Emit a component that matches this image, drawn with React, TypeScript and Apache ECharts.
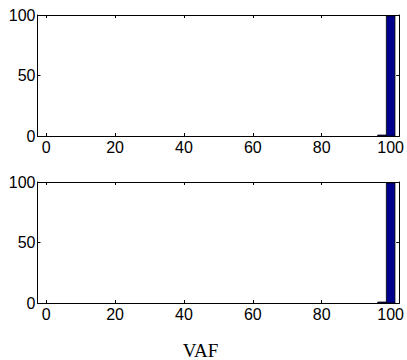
import React, { useEffect, useRef } from "react";
import * as echarts from "echarts";

// Histogram bins: [start, end, count]
const binsTop: number[][] = [
  [96.25, 98.75, 0.8],
  [98.75, 101.25, 99.2],
];
const binsBottom: number[][] = [
  [96.25, 98.75, 0.8],
  [98.75, 101.25, 99.2],
];
const xTicks = [0, 20, 40, 60, 80, 100];
const yTicks = [0, 50, 100];
const xLabel = "VAF";

const SANS = "Liberation Sans, Arial, sans-serif";

export default function App() {
  const ref = useRef<HTMLDivElement>(null);
  useEffect(() => {
    if (!ref.current) return;
    const chart = echarts.init(ref.current, undefined, { renderer: "svg" });
    const grids = [
      { left: 37.5, right: 3.5, top: 15, height: 121, containLabel: false },
      { left: 37.5, right: 3.5, top: 182, height: 121, containLabel: false },
    ];
    const xAxes: any[] = [];
    const yAxes: any[] = [];
    grids.forEach((_, gi) => {
      ["bottom", "top"].forEach((pos) => {
        xAxes.push({
          type: "value",
          gridIndex: gi,
          position: pos,
          min: -2.5,
          max: 102.5,
          axisLine: { show: true, onZero: false, lineStyle: { color: "#000", width: 1 } },
          axisTick: {
            show: true,
            inside: true,
            length: 3,
            customValues: xTicks,
            lineStyle: { color: "#000", width: 1 },
          },
          axisLabel: {
            show: pos === "bottom",
            customValues: xTicks,
            color: "#000",
            fontFamily: SANS,
            fontSize: 16,
            margin: 3,
          },
          splitLine: { show: false },
        });
      });
      ["left", "right"].forEach((pos) => {
        yAxes.push({
          type: "value",
          gridIndex: gi,
          position: pos,
          min: 0,
          max: 100,
          axisLine: { show: true, onZero: false, lineStyle: { color: "#000", width: 1 } },
          axisTick: {
            show: true,
            inside: true,
            length: 3,
            customValues: yTicks,
            lineStyle: { color: "#000", width: 1 },
          },
          axisLabel: {
            show: pos === "left",
            customValues: yTicks,
            color: "#000",
            fontFamily: SANS,
            fontSize: 16,
            margin: 2,
          },
          splitLine: { show: false },
        });
      });
    });

    const renderItem = (params: any, api: any) => {
      const p0 = api.coord([api.value(0), 0]);
      const p1 = api.coord([api.value(1), api.value(2)]);
      return {
        type: "rect",
        shape: { x: p0[0], y: p1[1], width: p1[0] - p0[0], height: p0[1] - p1[1] },
        style: { fill: "#00008f", stroke: "#000", lineWidth: 0.8 },
      };
    };

    chart.setOption({
      animation: false,
      backgroundColor: "#fff",
      grid: grids,
      xAxis: xAxes,
      yAxis: yAxes,
      series: [
        {
          type: "custom",
          xAxisIndex: 0,
          yAxisIndex: 0,
          renderItem,
          data: binsTop,
          encode: { x: [0, 1], y: 2 },
        },
        {
          type: "custom",
          xAxisIndex: 2,
          yAxisIndex: 2,
          renderItem,
          data: binsBottom,
          encode: { x: [0, 1], y: 2 },
        },
      ],
      graphic: [
        {
          type: "text",
          x: 200.5,
          y: 350,
          style: {
            text: xLabel,
            fill: "#000",
            fontFamily: "Liberation Serif, Times New Roman, serif",
            fontSize: 19,
            textAlign: "center",
            textVerticalAlign: "middle",
          },
        },
      ],
    });
    return () => chart.dispose();
  }, []);
  return (
    <div
      ref={ref}
      style={{ position: "fixed", left: 0, top: 0, width: 407, height: 360, background: "#fff" }}
    />
  );
}
